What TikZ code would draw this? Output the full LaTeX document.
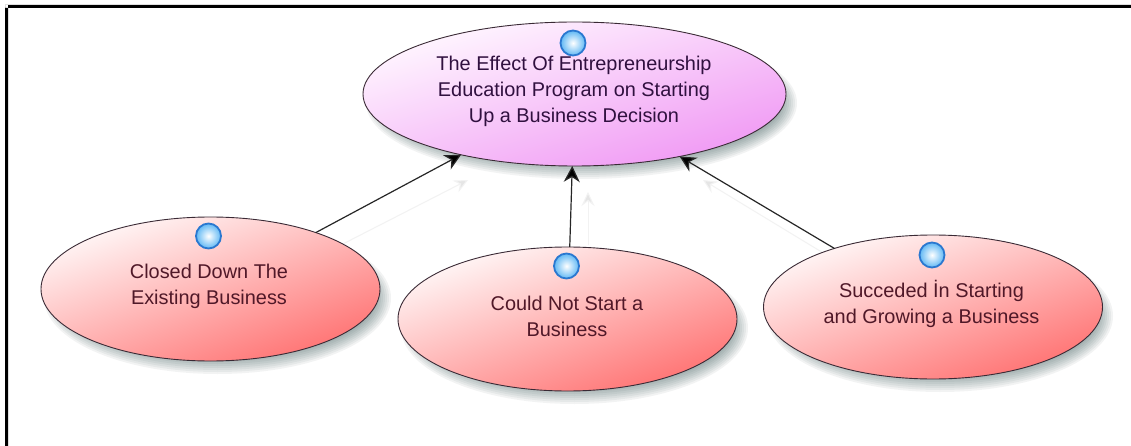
\documentclass[tikz,border=0pt]{standalone}
\usepackage{fontspec}
\setmainfont{Liberation Sans}
\usetikzlibrary{shapes.geometric,arrows.meta}
\definecolor{ovaledge}{HTML}{3A2A35}
\definecolor{ballrim}{HTML}{2A78D0}
\definecolor{maina}{HTML}{FFF8FF}
\definecolor{mainb}{HTML}{F098F4}
\definecolor{suba}{HTML}{FFF8F8}
\definecolor{subb}{HTML}{FF7272}
\definecolor{ballout}{HTML}{60B8F4}
\definecolor{maintext}{HTML}{30103F}
\definecolor{subtext}{HTML}{501828}
\tikzset{
  oval/.style={ellipse,draw=ovaledge,line width=0.9pt,inner sep=0pt,outer sep=0pt},
  mainoval/.style={oval,minimum width=423pt,minimum height=144pt,top color=maina,bottom color=mainb,shading angle=17},
  subgoal/.style={oval,minimum width=339pt,minimum height=144pt,top color=suba,bottom color=subb,shading angle=20},
  ball/.style={circle,minimum size=25pt,inner sep=0pt,draw=ballrim,line width=1.8pt,inner color=white,outer color=ballout},
  lbl/.style={align=center,font=\fontsize{19.9}{26}\selectfont,inner sep=0pt},
  link/.style={draw=black!85,line width=1.2pt,-{Stealth[length=16pt,width=16pt,inset=5pt,fill=black]}},
  ghost/.style={draw=black!5,line width=1pt,-{Stealth[length=14pt,width=13pt,inset=5pt,fill=black!10]}}
}
\newcommand{\softshadow}[3]{%
  \foreach \g in {0,2,...,16}{
    \fill[black!70!teal,opacity=0.05] ({#1+7},{#2+9}) ellipse [x radius={#3+4-\g},y radius={76-\g}];
  }}
\begin{document}
\begin{tikzpicture}[x=1pt,y=-1pt]
\useasboundingbox (0,0) rectangle (1131,446);
\fill[white] (0,0) rectangle (1131,446);
\fill[black] (5,446) rectangle (8,5) (5,5) rectangle (1131,8);
% ghost connectors
\coordinate (gl0) at (335,248); \coordinate (gl1) at (468,180);
\coordinate (gm0) at (588,245); \coordinate (gm1) at (588,192);
\coordinate (gr0) at (848,268); \coordinate (gr1) at (703,180);
\draw[ghost] (gl0) -- (gl1);
\draw[ghost] (gm0) -- (gm1);
\draw[ghost] (gr0) -- (gr1);
% shadows
\softshadow{574.5}{94}{211.5}
\softshadow{210.5}{289}{169.5}
\softshadow{567.5}{319}{169.5}
\softshadow{933}{307}{169}
% ovals
\node[mainoval] (top) at (574.5,94) {};
\node[subgoal] (left) at (210.5,289) {};
\node[subgoal] (mid) at (567.5,319) {};
\node[subgoal] (right) at (933,307) {};
% connectors
\draw[link] (left) -- (top);
\draw[link] (mid) -- (top);
\draw[link] (right) -- (top);
% balls
\node[ball] (btop) at (573,43) {};
\node[ball] (bleft) at (208.5,236) {};
\node[ball] (bmid) at (566.5,266) {};
\node[ball] (bright) at (932,255) {};
% labels
\node[lbl,text=maintext] (ttop) at (574,91) {The Effect Of Entrepreneurship\\Education Program on Starting\\Up a Business Decision};
\node[lbl,text=subtext] (tleft) at (209,286) {Closed Down The\\Existing Business};
\node[lbl,text=subtext] (tmid) at (567,316) {Could Not Start a\\Business};
\node[lbl,text=subtext] (tright) at (931.5,304) {Succeded İn Starting\\and Growing a Business};
\end{tikzpicture}
\end{document}
